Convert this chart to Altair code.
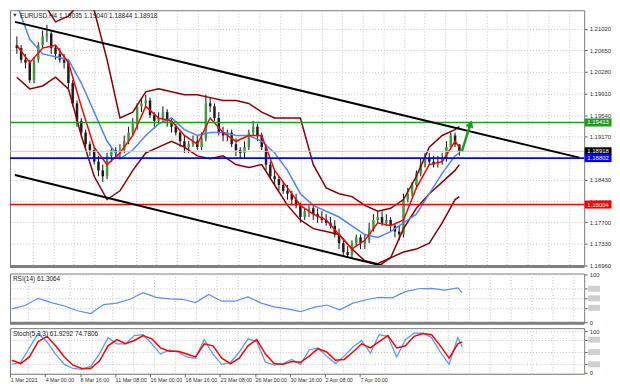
import altair as alt
import pandas as pd

FONT = "Liberation Sans"

# ---------------- data (EURUSD, each candle ~ 8 hours) ----------------
opens = [1.2074, 1.2069, 1.2049, 1.2044, 1.2014, 1.2049, 1.2074, 1.2089, 1.2094, 1.2069,
         1.2059, 1.2049, 1.2044, 1.2009, 1.1974, 1.1944, 1.1924, 1.1904, 1.1894, 1.1874,
         1.1859, 1.1849, 1.1884, 1.1894, 1.1889, 1.1894, 1.1909, 1.1924, 1.1939, 1.1969,
         1.1974, 1.1979, 1.1954, 1.1944, 1.1949, 1.1959, 1.1944, 1.1934, 1.1924, 1.1909,
         1.1899, 1.1904, 1.1909, 1.1899, 1.1914, 1.1974, 1.1969, 1.1949, 1.1924, 1.1919,
         1.1924, 1.1904, 1.1894, 1.1889, 1.1899, 1.1924, 1.1934, 1.1919, 1.1899, 1.1869,
         1.1849, 1.1844, 1.1834, 1.1824, 1.1819, 1.1809, 1.1799, 1.1779, 1.1789, 1.1794,
         1.1784, 1.1779, 1.1774, 1.1769, 1.1764, 1.1749, 1.1734, 1.1719, 1.1714, 1.1734,
         1.1744, 1.1734, 1.1739, 1.1759, 1.1774, 1.1779, 1.1769, 1.1774, 1.1764, 1.1754,
         1.1749, 1.1809, 1.1819, 1.1834, 1.1854, 1.1869, 1.1879, 1.1874, 1.1869, 1.1874,
         1.1879, 1.1899, 1.1919, 1.19035]
highs = [1.2089, 1.2074, 1.2059, 1.2049, 1.2054, 1.2079, 1.2099, 1.2109, 1.2099, 1.2074,
         1.2069, 1.2059, 1.2049, 1.2014, 1.1979, 1.1949, 1.1929, 1.1909, 1.1899, 1.1884,
         1.1869, 1.1889, 1.1899, 1.1899, 1.1904, 1.1919, 1.1934, 1.1949, 1.1974, 1.1984,
         1.1989, 1.1984, 1.1959, 1.1959, 1.1969, 1.1964, 1.1949, 1.1939, 1.1929, 1.1919,
         1.1909, 1.1919, 1.1919, 1.1924, 1.1989, 1.1984, 1.1974, 1.1959, 1.1934, 1.1929,
         1.1929, 1.1914, 1.1899, 1.1909, 1.1929, 1.1944, 1.1939, 1.1924, 1.1904, 1.1874,
         1.1859, 1.1849, 1.1839, 1.1834, 1.1824, 1.1819, 1.1804, 1.1794, 1.1799, 1.1799,
         1.1794, 1.1789, 1.1784, 1.1779, 1.1774, 1.1759, 1.1739, 1.1729, 1.1739, 1.1749,
         1.1749, 1.1749, 1.1769, 1.1784, 1.1789, 1.1789, 1.1784, 1.1779, 1.1769, 1.1764,
         1.1819, 1.1829, 1.1839, 1.1859, 1.1879, 1.1889, 1.1889, 1.1884, 1.1884, 1.1889,
         1.1909, 1.1924, 1.1924, 1.19040]
lows = [1.2059, 1.2044, 1.2034, 1.2009, 1.2009, 1.2044, 1.2069, 1.2079, 1.2059, 1.2049,
        1.2044, 1.2034, 1.1999, 1.1969, 1.1934, 1.1919, 1.1899, 1.1884, 1.1869, 1.1849,
        1.1839, 1.1844, 1.1874, 1.1879, 1.1879, 1.1889, 1.1904, 1.1919, 1.1929, 1.1959,
        1.1969, 1.1949, 1.1934, 1.1939, 1.1944, 1.1934, 1.1924, 1.1919, 1.1899, 1.1889,
        1.1889, 1.1899, 1.1894, 1.1894, 1.1909, 1.1959, 1.1944, 1.1919, 1.1909, 1.1909,
        1.1899, 1.1884, 1.1879, 1.1879, 1.1894, 1.1919, 1.1909, 1.1894, 1.1859, 1.1844,
        1.1834, 1.1824, 1.1819, 1.1809, 1.1799, 1.1794, 1.1769, 1.1774, 1.1779, 1.1774,
        1.1769, 1.1769, 1.1764, 1.1759, 1.1744, 1.1724, 1.1714, 1.1709, 1.1709, 1.1729,
        1.1724, 1.1724, 1.1734, 1.1754, 1.1769, 1.1764, 1.1764, 1.1754, 1.1744, 1.1739,
        1.1744, 1.1804, 1.1814, 1.1829, 1.1849, 1.1864, 1.1869, 1.1864, 1.1864, 1.1869,
        1.1874, 1.1899, 1.1899, 1.18844]
closes = [1.2069, 1.2049, 1.2044, 1.2014, 1.2049, 1.2074, 1.2089, 1.2094, 1.2069, 1.2059,
          1.2049, 1.2044, 1.2009, 1.1974, 1.1944, 1.1924, 1.1904, 1.1894, 1.1874, 1.1859,
          1.1849, 1.1884, 1.1894, 1.1889, 1.1894, 1.1909, 1.1924, 1.1939, 1.1969, 1.1974,
          1.1979, 1.1954, 1.1944, 1.1949, 1.1959, 1.1944, 1.1934, 1.1924, 1.1909, 1.1899,
          1.1904, 1.1909, 1.1899, 1.1914, 1.1974, 1.1969, 1.1949, 1.1924, 1.1919, 1.1924,
          1.1904, 1.1894, 1.1889, 1.1899, 1.1924, 1.1934, 1.1919, 1.1899, 1.1869, 1.1849,
          1.1844, 1.1834, 1.1824, 1.1819, 1.1809, 1.1799, 1.1779, 1.1789, 1.1794, 1.1784,
          1.1779, 1.1774, 1.1769, 1.1764, 1.1749, 1.1734, 1.1719, 1.1714, 1.1734, 1.1744,
          1.1734, 1.1739, 1.1759, 1.1774, 1.1779, 1.1769, 1.1774, 1.1764, 1.1754, 1.1749,
          1.1809, 1.1819, 1.1834, 1.1854, 1.1869, 1.1879, 1.1874, 1.1869, 1.1874, 1.1879,
          1.1899, 1.1919, 1.1904, 1.18918]

# indicator lines sampled every third candle
line_idx = [0, 3, 6, 9, 12, 15, 18, 21, 24, 27, 30, 33, 36, 39, 42, 45, 48, 51, 54, 57,
            60, 63, 66, 69, 72, 75, 78, 81, 84, 87, 90, 93, 96, 99, 102, 103]
red_ma = [1.2074, 1.2044, 1.2069, 1.2074, 1.2044, 1.1969, 1.1899, 1.1869, 1.1889, 1.1919,
          1.1969, 1.1949, 1.1944, 1.1919, 1.1904, 1.1949, 1.1924, 1.1909, 1.1919, 1.1919,
          1.1859, 1.1829, 1.1799, 1.1784, 1.1774, 1.1749, 1.1724, 1.1739, 1.1769, 1.1764,
          1.1774, 1.1829, 1.1869, 1.1874, 1.1909, 1.1899]
blue_ma = [1.2144, 1.2084, 1.2059, 1.2054, 1.2049, 1.2009, 1.1959, 1.1909, 1.1879, 1.1894,
           1.1919, 1.1939, 1.1949, 1.1929, 1.1919, 1.1924, 1.1924, 1.1919, 1.1919, 1.1909,
           1.1889, 1.1859, 1.1819, 1.1799, 1.1789, 1.1779, 1.1764, 1.1749, 1.1744, 1.1754,
           1.1769, 1.1784, 1.1819, 1.1854, 1.1884, 1.1889]
band_upper = [1.2149, 1.2159, 1.2149, 1.2114, 1.2124, 1.2149, 1.2134, 1.2049, 1.1949, 1.1959,
              1.1994, 1.1999, 1.1994, 1.1989, 1.1989, 1.1984, 1.1979, 1.1979, 1.1974, 1.1959,
              1.1949, 1.1949, 1.1949, 1.1869, 1.1829, 1.1819, 1.1814, 1.1799, 1.1789, 1.1794,
              1.1809, 1.1849, 1.1899, 1.1919, 1.1929, 1.1934]
band_lower = [1.2019, 1.1999, 1.2004, 1.2019, 1.1999, 1.1919, 1.1849, 1.1809, 1.1824, 1.1859,
              1.1889, 1.1899, 1.1909, 1.1899, 1.1884, 1.1879, 1.1884, 1.1869, 1.1864, 1.1869,
              1.1834, 1.1799, 1.1774, 1.1759, 1.1754, 1.1749, 1.1724, 1.1704, 1.1699, 1.1709,
              1.1759, 1.1794, 1.1819, 1.1839, 1.1859, 1.1869]
outer_idx = [84, 87, 90, 93, 96, 99, 102, 103]
band_outer = [1.1694, 1.1709, 1.1719, 1.1724, 1.1734, 1.1769, 1.1809, 1.1814]

rsi = [28, 35, 50, 41, 34, 24, 18, 37, 40, 48, 62, 52, 49, 48, 41, 58, 44, 44, 53, 40,
       32, 28, 22, 31, 36, 26, 40, 47, 52, 51, 64, 70, 71, 67, 72, 61.3064]

stoch_idx = [0, 2, 4, 6, 8, 10, 12, 14, 16, 18, 20, 22, 24, 26, 28, 30, 32, 34, 36, 38,
             40, 42, 44, 46, 48, 50, 52, 54, 56, 58, 60, 62, 64, 66, 68, 70, 72, 74, 76, 78,
             80, 82, 84, 86, 88, 90, 92, 94, 96, 98, 100, 102, 103]
stoch_main = [20, 25, 60, 95, 75, 45, 20, 10, 8, 15, 45, 85, 70, 70, 90, 92, 70, 45, 55, 50,
              38, 35, 80, 45, 20, 25, 50, 82, 75, 25, 18, 22, 32, 20, 55, 60, 40, 22, 40, 62,
              78, 47, 92, 88, 38, 80, 96, 96, 85, 50, 20, 85, 61.9292]
stoch_signal = [30, 22, 38, 75, 88, 65, 38, 18, 10, 10, 28, 65, 80, 70, 78, 90, 82, 60, 52, 52,
                45, 38, 70, 65, 35, 22, 35, 65, 80, 45, 22, 20, 27, 25, 40, 58, 50, 30, 32, 50,
                70, 60, 75, 90, 60, 65, 88, 95, 92, 65, 35, 70, 74.7806]

price_ticks = [1.2102, 1.2065, 1.2028, 1.1991, 1.1954, 1.1917, 1.1880, 1.1843, 1.1806,
               1.1770, 1.1733, 1.1696]
time_idx = [-0.4, 7.6, 15.6, 23.6, 31.6, 39.6, 47.6, 55.6, 63.6, 71.6, 79.6]
time_labels = ["1 Mar 2021", "4 Mar 00:00", "8 Mar 16:00", "11 Mar 08:00", "16 Mar 00:00",
               "18 Mar 16:00", "23 Mar 08:00", "26 Mar 00:00", "30 Mar 16:00",
               "2 Apr 08:00", "7 Apr 00:00"]

resistance_price = 1.19413
support_price = 1.18802
support2_price = 1.18004
bid_price = 1.18918

channel_idx = [-0.44, 130.9]
channel_upper = [1.2114, 1.1881]
channel_lower = [1.1851, 1.1612]
arrow_idx = [103.6, 105.6]
arrow_price = [1.1892, 1.1939]

rsi_levels = [30, 50, 70]
stoch_levels = [20, 50, 80]

header = "EURUSD,H4  1.19035 1.19040 1.18844 1.18918"
rsi_title = "RSI(14) 61.3064"
stoch_title = "Stoch(5,3,3) 61.9292 74.7806"

# ---------------- frames ----------------
n = len(closes)
candles = pd.DataFrame({"i": list(range(n)), "o": opens, "h": highs, "l": lows, "c": closes})
candles["dir"] = ["up" if c >= o else "down" for o, c in zip(opens, closes)]

lines_df = pd.DataFrame({"i": line_idx, "red": red_ma, "blue": blue_ma,
                         "up": band_upper, "lo": band_lower, "rsi": rsi})
outer_df = pd.DataFrame({"i": outer_idx, "p": band_outer})
stoch_df = pd.DataFrame({"i": stoch_idx, "m": stoch_main, "s": stoch_signal})
chan_df = pd.DataFrame({"i": channel_idx * 2, "p": channel_upper + channel_lower,
                        "which": ["u", "u", "l", "l"]})
arrow_df = pd.DataFrame({"i": arrow_idx, "p": arrow_price})

# ---------------- layout / styles ----------------
W, H1, H2, H3 = 578, 258, 50, 46
GRID = "#c4c4c4"
GREEN, BLUE, RED = "#1f9a1f", "#0000ff", "#ff0000"
xs = alt.Scale(domain=[-0.44, 130.9], nice=False, zero=False)
ys = alt.Scale(domain=[1.1694, 1.2134], nice=False, zero=False)
gx = [round(3.7 + 4.8 * k, 2) for k in range(28)]

ax_grid = alt.Axis(values=gx, grid=True, labels=False, ticks=False, domain=False, title=None,
                   gridDash=[1, 2], gridColor=GRID)
ax_price = alt.Axis(orient="right", values=price_ticks, format=".5f", title=None, grid=True,
                    gridDash=[1, 2], gridColor=GRID, domain=False, tickSize=3, tickColor="#666",
                    labelFontSize=6, labelColor="#333", labelPadding=2, labelFont=FONT,
                    labelExpr="datum.value == 1.188 ? '' : datum.label")


def X(f):
    return alt.X(f"{f}:Q", scale=xs, axis=ax_grid)


def Y(f):
    return alt.Y(f"{f}:Q", scale=ys, axis=ax_price)


BOX = "M-1,-0.3L1,-0.3L1,0.3L-1,0.3Z"


def hline(price, color, width):
    return alt.Chart(pd.DataFrame({"p": [price]})).mark_rule(
        color=color, strokeWidth=width).encode(y=Y("p"))


def price_box(price, color):
    d = pd.DataFrame({"p": [price]})
    b = alt.Chart(d).mark_point(shape=BOX, filled=True, size=27 * 27, opacity=1,
                                strokeWidth=0, color=color).encode(x=alt.value(W + 14), y=Y("p"))
    t = alt.Chart(d).mark_text(color="white", fontSize=6, font=FONT, align="center",
                               baseline="middle").encode(
        x=alt.value(W + 14), y=Y("p"), text=alt.Text("p:Q", format=".5f"))
    return [b, t]


wick = alt.Chart(candles).mark_rule(color="#111", strokeWidth=1).encode(
    x=X("i"), y=Y("l"), y2="h:Q")
body = alt.Chart(candles).mark_bar(size=2.5).encode(
    x=X("i"), y=Y("o"), y2="c:Q",
    color=alt.Color("dir:N", scale=alt.Scale(domain=["up", "down"], range=["#3d9a3d", "#1c1c1c"]),
                    legend=None))
upper_l = alt.Chart(lines_df).mark_line(color="#8b0000", strokeWidth=1.5, clip=True).encode(
    x=X("i"), y=Y("up"))
lower_l = alt.Chart(lines_df).mark_line(color="#8b0000", strokeWidth=1.5, clip=True).encode(
    x=X("i"), y=Y("lo"))
outer_l = alt.Chart(outer_df).mark_line(color="#8b0000", strokeWidth=1.5, clip=True).encode(
    x=X("i"), y=Y("p"))
blue_l = alt.Chart(lines_df).mark_line(color="#4f86f7", strokeWidth=1.5, clip=True).encode(
    x=X("i"), y=Y("blue"))
red_l = alt.Chart(lines_df).mark_line(color="#ff0000", strokeWidth=1.5, clip=True).encode(
    x=X("i"), y=Y("red"))
chan = alt.Chart(chan_df).mark_line(color="#000", strokeWidth=2, clip=True).encode(
    x=X("i"), y=Y("p"), detail="which:N")
arrow_line = alt.Chart(arrow_df).mark_line(color=GREEN, strokeWidth=2.5).encode(
    x=X("i"), y=Y("p"))
arrow_head = alt.Chart(arrow_df.tail(1)).mark_point(
    shape="triangle-up", filled=True, size=70, angle=18, color=GREEN, opacity=1).encode(
    x=X("i"), y=Y("p"))
head_txt = alt.Chart(pd.DataFrame({"t": [header]})).mark_text(
    align="left", baseline="middle", fontSize=6.5, font=FONT, color="#222").encode(
    x=alt.value(10), y=alt.value(6), text="t:N")
head_icon = alt.Chart(pd.DataFrame({"t": [header]})).mark_point(
    shape="triangle-down", filled=True, size=12, color="#333", opacity=1).encode(
    x=alt.value(5), y=alt.value(5))
sep1 = alt.Chart(pd.DataFrame({"t": [0]})).mark_rule(color="#808080", strokeWidth=3).encode(
    x=alt.value(0), x2=alt.value(W), y=alt.value(H1))

main = alt.layer(
    wick, body, upper_l, lower_l, outer_l, blue_l, red_l,
    hline(bid_price, "#c8c8c8", 1), hline(resistance_price, GREEN, 1.5),
    hline(support_price, BLUE, 1.8), hline(support2_price, RED, 1.5),
    chan, arrow_line, arrow_head, sep1,
    *price_box(resistance_price, GREEN), *price_box(bid_price, "#000000"),
    *price_box(support_price, BLUE), *price_box(support2_price, RED),
    head_icon, head_txt
).properties(width=W, height=H1)

# ---------------- RSI ----------------
rs = alt.Scale(domain=[-2, 102], nice=False, zero=False)
ax_rsi = alt.Axis(orient="right", values=[0, 30, 50, 70, 100], title=None, grid=True,
                  gridDash=[1, 2], gridColor=GRID, domain=False, tickSize=3, tickColor="#666",
                  labelFontSize=6, labelColor="#333", labelFont=FONT, labelPadding=2,
                  labelExpr="datum.value == 0 || datum.value == 100 ? datum.label : ''")
rsi_line = alt.Chart(lines_df).mark_line(color="#5b8ff0", strokeWidth=1.2).encode(
    x=X("i"), y=alt.Y("rsi:Q", scale=rs, axis=ax_rsi))
rsi_boxes = alt.Chart(pd.DataFrame({"v": rsi_levels})).mark_point(
    shape="M-1,-0.5L1,-0.5L1,0.5L-1,0.5Z", filled=True, size=144, color="#cfcfcf", opacity=1).encode(
    x=alt.value(W + 10), y=alt.Y("v:Q", scale=rs, axis=ax_rsi))
rsi_txt = alt.Chart(pd.DataFrame({"t": [rsi_title]})).mark_text(
    align="left", baseline="middle", fontSize=6.5, font=FONT, color="#222").encode(
    x=alt.value(3), y=alt.value(6), text="t:N")
sep2 = alt.Chart(pd.DataFrame({"t": [0]})).mark_rule(color="#808080", strokeWidth=3).encode(
    x=alt.value(0), x2=alt.value(W), y=alt.value(H2))
rsi_panel = alt.layer(rsi_line, rsi_boxes, rsi_txt, sep2).properties(width=W, height=H2)

# ---------------- Stochastic ----------------
ss = alt.Scale(domain=[-3, 108], nice=False, zero=False)
ax_st = alt.Axis(orient="right", values=[0, 20, 50, 80, 100], title=None, grid=True,
                 gridDash=[1, 2], gridColor=GRID, domain=False, tickSize=3, tickColor="#666",
                 labelFontSize=6, labelColor="#333", labelFont=FONT, labelPadding=2,
                 labelExpr="datum.value == 0 || datum.value == 100 ? datum.label : ''")
label_js = "[" + ",".join("'" + s + "'" for s in time_labels) + "]"
ax_time = alt.Axis(orient="bottom", values=time_idx, title=None, grid=False, domain=False,
                   tickSize=3, tickColor="#666", labelAlign="left", labelFlush=False,
                   labelOverlap=False, labelFontSize=5.4, labelColor="#333", labelFont=FONT,
                   labelPadding=1,
                   labelExpr=label_js + "[round((datum.value + 0.4) / 8)]")
ax_grid_top = alt.Axis(orient="top", values=gx, grid=True, labels=False, ticks=False,
                       domain=False, title=None, gridDash=[1, 2], gridColor=GRID)
st_main = alt.Chart(stoch_df).mark_line(color="#5b9bf0", strokeWidth=1.3).encode(
    x=alt.X("i:Q", scale=xs, axis=ax_grid_top), y=alt.Y("m:Q", scale=ss, axis=ax_st))
st_sig = alt.Chart(stoch_df).mark_line(color="#ff0000", strokeWidth=1.5).encode(
    x=alt.X("i:Q", scale=xs, axis=ax_time), y=alt.Y("s:Q", scale=ss, axis=ax_st))
st_boxes = alt.Chart(pd.DataFrame({"v": stoch_levels})).mark_point(
    shape="M-1,-0.5L1,-0.5L1,0.5L-1,0.5Z", filled=True, size=144, color="#cfcfcf", opacity=1).encode(
    x=alt.value(W + 10), y=alt.Y("v:Q", scale=ss, axis=ax_st))
st_txt = alt.Chart(pd.DataFrame({"t": [stoch_title]})).mark_text(
    align="left", baseline="middle", fontSize=6.5, font=FONT, color="#222").encode(
    x=alt.value(3), y=alt.value(6), text="t:N")
st_panel = alt.layer(st_main, st_sig, st_boxes, st_txt).resolve_axis(x="independent").properties(
    width=W, height=H3)

chart = alt.vconcat(main, rsi_panel, st_panel, spacing=1).properties(
    padding=0, background="white"
).configure_view(stroke="#7a7a7a", strokeWidth=1)

chart.save("out.html", embed_options={"renderer": "svg", "actions": False})
